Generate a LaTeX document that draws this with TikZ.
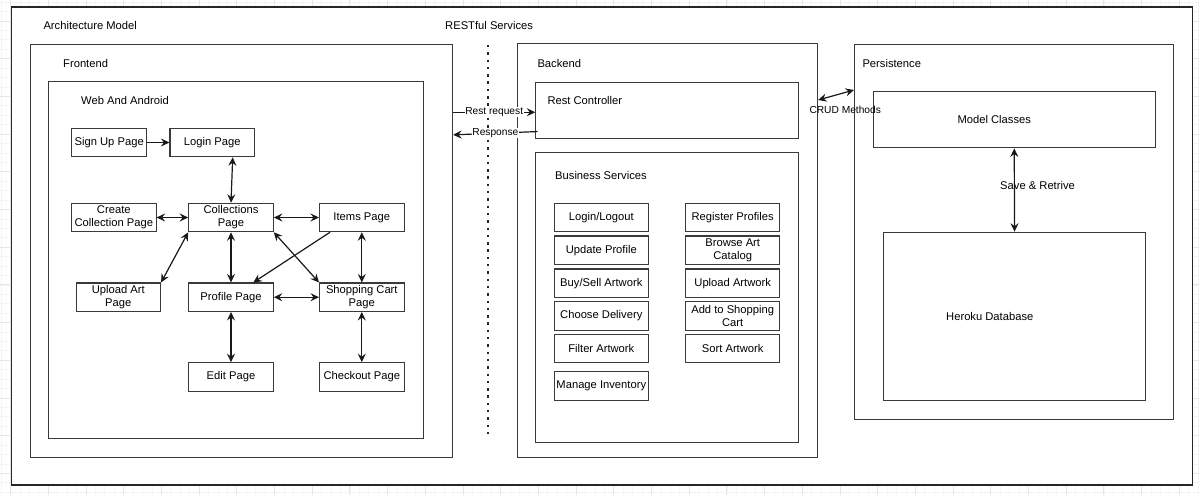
\documentclass[tikz,border=0pt]{standalone}
\usepackage{fontspec}
\setmainfont{Liberation Sans}
\usetikzlibrary{arrows.meta}
\definecolor{edgec}{HTML}{3A3A3A}
\definecolor{gridminor}{HTML}{F4F4F4}
\definecolor{gridmajor}{HTML}{E6E6E6}
\begin{document}
\begin{tikzpicture}[x=1pt,y=-1pt,
  txt/.style={font=\fontsize{11.2}{13}\selectfont, text=black},
  smalltxt/.style={font=\fontsize{10.2}{12}\selectfont, text=black},
  container/.style={draw=edgec, line width=1.1pt, inner sep=0pt, anchor=north west, fill=white},
  pagebox/.style={draw=edgec, line width=1.1pt, inner sep=0pt, minimum width=84.5pt, minimum height=28.4pt, align=center, txt, fill=white},
  svcbox/.style={pagebox, minimum width=94pt},
  caption/.style={txt, anchor=west, inner sep=0pt},
  arr/.style={draw=black!90, line width=1.2pt, -{Stealth[length=8.5pt,width=8pt,inset=3pt]}},
  darr/.style={draw=black!90, line width=1.2pt, {Stealth[length=8.5pt,width=8pt,inset=3pt]}-{Stealth[length=8.5pt,width=8pt,inset=3pt]}},
  edgelabel/.style={smalltxt, fill=white, inner sep=0.6pt}
]
\useasboundingbox (0,0) rectangle (1199,495);
% canvas grid
\foreach \k in {-2,...,126} {\draw[gridminor, line width=0.6pt] ({10.5+9.425*\k},0) -- ({10.5+9.425*\k},495);}
\foreach \k in {-3,...,51} {\draw[gridminor, line width=0.6pt] (0,{473.3-9.425*\k}) -- (1199,{473.3-9.425*\k});}
\foreach \k in {0,...,32} {\draw[gridmajor, line width=0.7pt] ({10.5+37.7*\k},0) -- ({10.5+37.7*\k},495);}
\foreach \k in {0,...,13} {\draw[gridmajor, line width=0.7pt] (0,{473.3-37.7*\k}) -- (1199,{473.3-37.7*\k});}

% containers
\node[container, line width=1.4pt, draw=black!85, minimum width=1181.2pt, minimum height=478pt] (outer) at (10.5,6.3) {};
\node[container, minimum width=422.5pt, minimum height=413.3pt] (frontend) at (29.5,43.7) {};
\node[container, minimum width=374.7pt, minimum height=356.7pt] (web) at (48.3,81) {};
\node[container, minimum width=300.3pt, minimum height=413.7pt] (backend) at (516.7,43.3) {};
\node[container, minimum width=262.7pt, minimum height=56pt] (restctrl) at (535.3,81.7) {};
\node[container, minimum width=262.7pt, minimum height=290pt] (bizsvc) at (535.3,152) {};
\node[container, minimum width=319.3pt, minimum height=375pt] (persist) at (854,44) {};
\node[container, minimum width=282pt, minimum height=56.3pt] (model) at (872.7,91) {};
\node[container, minimum width=262.6pt, minimum height=168.3pt] (heroku) at (882.7,231.7) {};

% captions
\node[caption] (capArch) at (43.3,25) {Architecture Model};
\node[caption] (capRest) at (445,25) {RESTful Services};
\node[caption] (capFront) at (63,63) {Frontend};
\node[caption] (capWeb) at (81,100) {Web And Android};
\node[caption] (capBack) at (537.3,63) {Backend};
\node[caption] (capCtrl) at (547.3,100) {Rest Controller};
\node[caption] (capBiz) at (555,175) {Business Services};
\node[caption] (capPers) at (862.3,63) {Persistence};
\node[caption] (capModel) at (957.3,119) {Model Classes};
\node[caption] (capHeroku) at (946,316) {Heroku Database};

% frontend pages
\node[pagebox, minimum width=75pt] (signup) at (109.2,142.5) {Sign Up Page};
\node[pagebox] (login) at (212.2,142.5) {Login Page};
\node[pagebox] (create) at (113.8,217.5) {Create\\Collection Page};
\node[pagebox] (coll) at (231,217.5) {Collections\\Page};
\node[pagebox] (items) at (361.8,217.5) {Items Page};
\node[pagebox] (upload) at (118.3,297.2) {Upload Art\\Page};
\node[pagebox] (profile) at (231,297.2) {Profile Page};
\node[pagebox] (cart) at (361.8,297.2) {Shopping Cart\\Page};
\node[pagebox] (edit) at (231,376.9) {Edit Page};
\node[pagebox] (checkout) at (361.8,376.9) {Checkout Page};

% frontend connectors
\draw[arr] (signup.east) -- (login.west);
\draw[darr] ([xshift=20.5pt]login.south) -- (coll.north);
\draw[darr] (create.east) -- (coll.west);
\draw[darr] (coll.east) -- (items.west);
\draw[darr] (upload.north east) -- (coll.south west);
\draw[darr] (coll.south) -- (profile.north);
\draw[arr] ([xshift=-31.8pt]items.south) -- ([xshift=22.3pt]profile.north);
\draw[darr] (coll.south east) -- (cart.north west);
\draw[darr] (items.south) -- (cart.north);
\draw[darr] (profile.east) -- (cart.west);
\draw[darr] (profile.south) -- (edit.north);
\draw[darr] (cart.south) -- (checkout.north);

% business services
\node[svcbox] (s1) at (601.3,217.5) {Login/Logout};
\node[svcbox] (s2) at (601.3,250.2) {Update Profile};
\node[svcbox] (s3) at (601.3,283.2) {Buy/Sell Artwork};
\node[svcbox] (s4) at (601.3,315.9) {Choose Delivery};
\node[svcbox] (s5) at (601.3,348.5) {Filter Artwork};
\node[svcbox] (s6) at (601.3,386) {Manage Inventory};
\node[svcbox] (t1) at (732.7,217.5) {Register Profiles};
\node[svcbox] (t2) at (732.7,250.2) {Browse Art\\Catalog};
\node[svcbox] (t3) at (732.7,283.2) {Upload Artwork};
\node[svcbox] (t4) at (732.7,315.9) {Add to Shopping\\Cart};
\node[svcbox] (t5) at (732.7,348.5) {Sort Artwork};

% RESTful divider
\coordinate (dtop) at (488,45);
\coordinate (dbot) at (488,437);
\draw[black!85, line width=2.4pt, dash pattern=on 2.4pt off 4.9pt] (dtop) -- (dbot);

% rest request / response
\draw[arr] ([yshift=-2pt]restctrl.west -| frontend.east) -- node[edgelabel] (lblReq) {Rest request} ([yshift=-2pt]restctrl.west);
\draw[arr] ([xshift=2.4pt,yshift=-21.3pt]restctrl.west) -- node[edgelabel] (lblResp) {Response} ([yshift=-24.6pt]restctrl.west -| frontend.east);

% CRUD
\draw[darr] ([yshift=-56.7pt]backend.north east) -- ([yshift=-46pt]persist.north west);
\node[smalltxt, anchor=west, inner sep=0pt] (lblCrud) at (809.3,110) {CRUD Methods};

% save & retrieve
\draw[darr] (model.south) -- (heroku.north);
\node[caption] (lblSave) at (1000,185) {Save \& Retrive};
\end{tikzpicture}
\end{document}
